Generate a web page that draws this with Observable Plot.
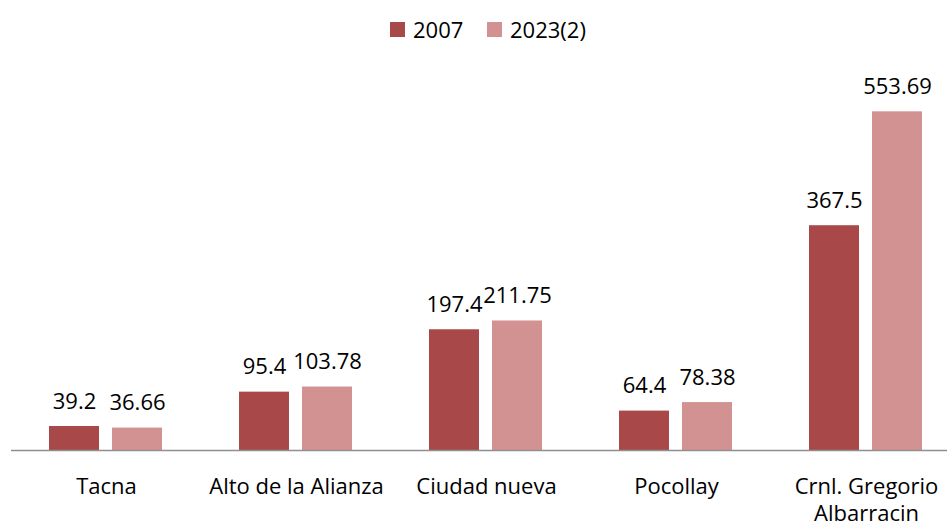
<!DOCTYPE html>
<html>
<head>
<meta charset="utf-8">
<script src="https://cdn.jsdelivr.net/npm/d3@7"></script>
<script src="https://cdn.jsdelivr.net/npm/@observablehq/plot@0.6"></script>
<style>
  html, body { margin: 0; padding: 0; background: #fff; overflow: hidden; }
  body { width: 947px; height: 527px; font-family: "Open Sans", sans-serif; }
  #legend { position: relative; height: 58px; }
  .item { position: absolute; top: 14px; display: flex; align-items: center; font-size: 22px; color: #000; line-height: 30px; }
  .sw { width: 15px; height: 15px; margin-right: 8px; }
  svg { display: block; }
</style>
</head>
<body>
<div id="legend"></div>
<div id="chart"></div>
<script>
const categories = ["Tacna", "Alto de la Alianza", "Ciudad nueva", "Pocollay", "Crnl. Gregorio\nAlbarracin"];
const series = ["2007", "2023(2)"];
const values2007 = [39.2, 95.4, 197.4, 64.4, 367.5];
const values2023 = [36.66, 103.78, 211.75, 78.38, 553.69];
const labels2007 = ["39.2", "95.4", "197.4", "64.4", "367.5"];
const labels2023 = ["36.66", "103.78", "211.75", "78.38", "553.69"];
const colors = ["#A94848", "#D39292"];

const data = [];
categories.forEach((c, i) => {
  data.push({category: c, series: series[0], value: values2007[i], label: labels2007[i]});
  data.push({category: c, series: series[1], value: values2023[i], label: labels2023[i]});
});

// Legend
const legend = document.getElementById("legend");
const legendLeft = [390, 487];
series.forEach((s, i) => {
  const it = document.createElement("div");
  it.className = "item";
  it.style.left = legendLeft[i] + "px";
  it.innerHTML = `<span class="sw" style="background:${colors[i]}"></span><span>${s}</span>`;
  legend.appendChild(it);
});

const chart = Plot.plot({
  width: 947,
  height: 469,
  marginLeft: 10,
  marginRight: 0,
  marginTop: 25,
  marginBottom: 77,
  style: {fontFamily: "'Open Sans', sans-serif", fontSize: "22px", color: "#000", background: "#fff"},
  fx: {domain: categories, range: [10, 962], padding: 0, axis: null},
  x: {domain: series, paddingInner: 0.2, paddingOuter: 0.6, axis: null},
  y: {domain: [0, 600], axis: null},
  color: {domain: series, range: colors},
  marks: [
    Plot.barY(data, {fx: "category", x: "series", y: "value", fill: "series"}),
    Plot.ruleY([0], {stroke: "#8f8f8f", strokeWidth: 1.5}),
    Plot.text(data, {fx: "category", x: "series", y: "value", text: "label", dy: -18, lineAnchor: "bottom", fontSize: 22, fill: "#000"}),
    Plot.axisFx({anchor: "bottom", tickSize: 0, tickPadding: 25, fontSize: 22, lineHeight: 1.21, label: null, fill: "#000"})
  ]
});
document.getElementById("chart").appendChild(chart);
</script>
</body>
</html>
